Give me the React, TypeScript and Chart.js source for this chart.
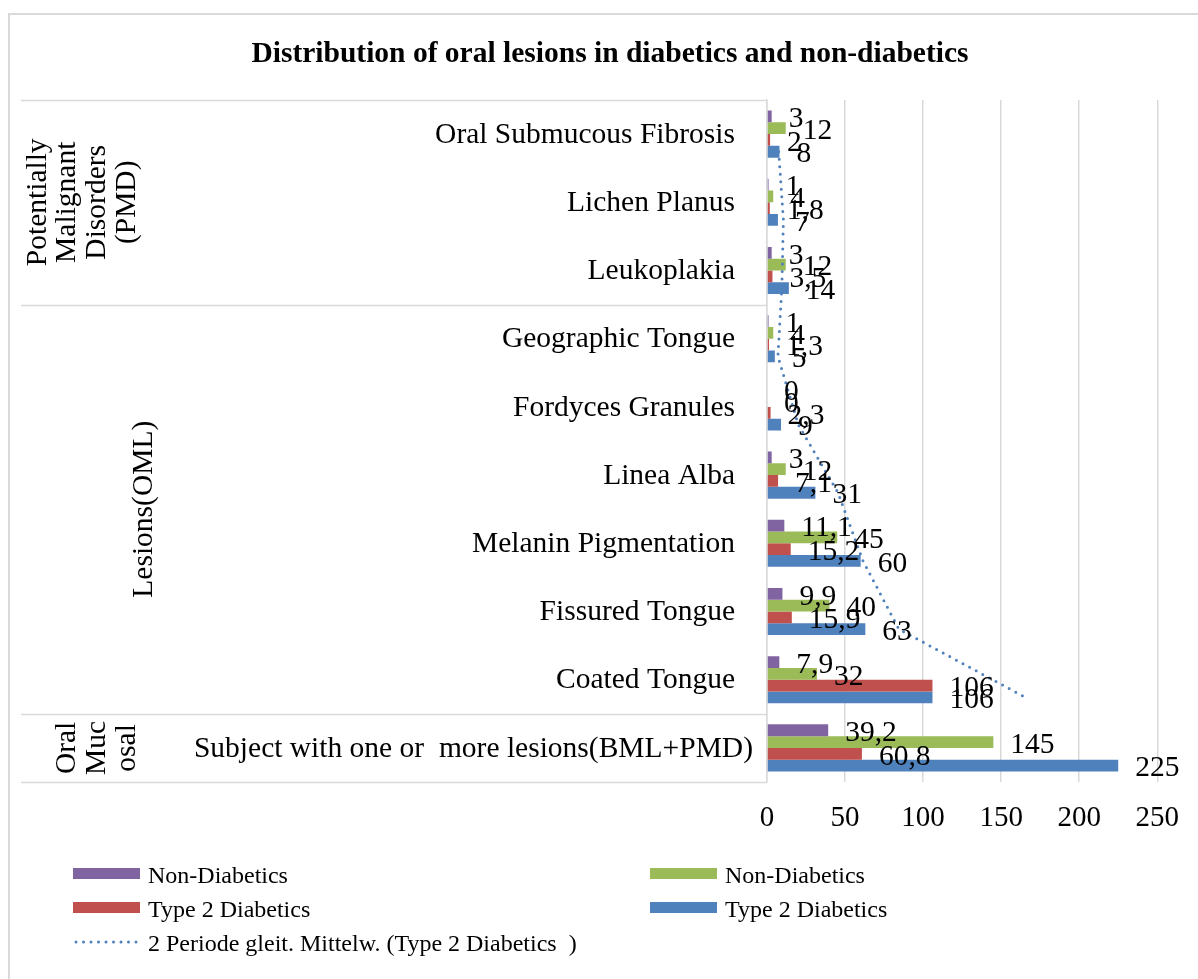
import React, { useEffect, useRef } from 'react';
import { Chart, registerables } from 'chart.js';

Chart.register(...registerables);

const FONT = '"Liberation Serif", "Times New Roman", serif';

const categories = [
  'Oral Submucous Fibrosis',
  'Lichen Planus',
  'Leukoplakia',
  'Geographic Tongue',
  'Fordyces Granules',
  'Linea Alba',
  'Melanin Pigmentation',
  'Fissured Tongue',
  'Coated Tongue',
  'Subject with one or  more lesions(BML+PMD)',
];

const nonDiabeticsPct = [3, 1, 3, 1, 0, 3, 11.1, 9.9, 7.9, 39.2];
const nonDiabeticsCount = [12, 4, 12, 4, 0, 12, 45, 40, 32, 145];
const type2Pct = [2, 1.8, 3.5, 1.3, 2.3, 7.1, 15.2, 15.9, 106, 60.8];
const type2Count = [8, 7, 14, 5, 9, 31, 60, 63, 106, 225];
const movingAvg = [7.5, 10.5, 9.5, 7, 20, 45.5, 61.5, 84.5, 165.5, null];

const xTickMin = 0;
const xTickMax = 250;
const xTickStep = 50;

const groups = [
  { lines: ['Potentially', 'Malignant', 'Disorders', '(PMD)'], first: 0, last: 2 },
  { lines: ['Lesions(OML)'], first: 3, last: 8 },
  { lines: ['Oral', 'Muc', 'osal'], first: 9, last: 9 },
];

const seriesLabels = ['Non-Diabetics', 'Non-Diabetics', 'Type 2 Diabetics', 'Type 2 Diabetics'];
const trendLabel = '2 Periode gleit. Mittelw. (Type 2 Diabetics  )';
const titleText = 'Distribution of oral lesions in diabetics and non-diabetics';
const colors = ['#8064A2', '#9BBB59', '#C0504D', '#4F81BD'];

const GRID = '#D9D9D9';
const TXT = 29.5;

const fmt = (v: number) => String(v).replace('.', ',');

const decorPlugin = {
  id: 'decor',
  beforeDraw(chart: any) {
    const ctx = chart.ctx;
    ctx.save();
    ctx.fillStyle = '#fff';
    ctx.fillRect(0, 0, chart.width, chart.height);
    ctx.restore();
  },
  beforeDatasetDraw(chart: any, args: any) {
    if (args.index !== 4) return;
    const ctx = chart.ctx;
    const blue = chart.getDatasetMeta(3).data[0];
    const yScale = chart.scales.y;
    const off = blue ? blue.y - yScale.getPixelForValue(0) : 0;
    ctx.save();
    ctx.translate(0, off);
  },
  afterDatasetDraw(chart: any, args: any) {
    if (args.index !== 4) return;
    chart.ctx.restore();
  },
  afterDatasetsDraw(chart: any) {
    const ctx = chart.ctx;
    ctx.save();
    ctx.font = `${TXT}px ${FONT}`;
    ctx.fillStyle = '#000';
    ctx.textAlign = 'left';
    ctx.textBaseline = 'middle';
    for (let d = 0; d < 4; d++) {
      const meta = chart.getDatasetMeta(d);
      const vals = chart.data.datasets[d].data;
      meta.data.forEach((el: any, i: number) => {
        ctx.fillText(fmt(vals[i]), el.x + 17, el.y + 3);
      });
    }
    ctx.restore();
  },
  afterDraw(chart: any) {
    const ctx = chart.ctx;
    const area = chart.chartArea;
    const y = chart.scales.y;
    ctx.save();
    // outer border
    ctx.strokeStyle = GRID;
    ctx.lineWidth = 2;
    ctx.strokeRect(9, 14, 1400, 1400);

    // title
    ctx.fillStyle = '#000';
    ctx.font = `bold ${TXT}px ${FONT}`;
    ctx.textAlign = 'center';
    ctx.textBaseline = 'alphabetic';
    ctx.fillText(titleText, 610, 62);

    // category labels (from the category scale)
    ctx.font = `${TXT}px ${FONT}`;
    ctx.textAlign = 'right';
    ctx.textBaseline = 'middle';
    categories.forEach((c, i) => {
      const right = i === categories.length - 1 ? 753 : 735;
      ctx.fillText(c, right, y.getPixelForValue(i) + 1);
    });

    // group boxes
    const boundary = (i: number) => {
      if (i <= 0) return area.top;
      if (i >= categories.length) return area.bottom;
      return (y.getPixelForValue(i - 1) + y.getPixelForValue(i)) / 2;
    };
    ctx.strokeStyle = GRID;
    ctx.lineWidth = 1.5;
    const ys = [boundary(0)];
    groups.forEach((g) => ys.push(boundary(g.last + 1)));
    ys.forEach((yy) => {
      ctx.beginPath();
      ctx.moveTo(21, Math.round(yy) + 0.5);
      ctx.lineTo(area.left, Math.round(yy) + 0.5);
      ctx.stroke();
    });

    // group labels (rotated)
    const lineX = [[38, 67, 97, 127], [144], [67, 97, 127]];
    ctx.fillStyle = '#000';
    ctx.font = `${TXT}px ${FONT}`;
    ctx.textAlign = 'center';
    ctx.textBaseline = 'middle';
    groups.forEach((g, gi) => {
      const cy = (boundary(g.first) + boundary(g.last + 1)) / 2;
      g.lines.forEach((t, li) => {
        ctx.save();
        ctx.translate(lineX[gi][li], cy);
        ctx.rotate(-Math.PI / 2);
        ctx.fillText(t, 0, 0);
        ctx.restore();
      });
    });

    // legend
    ctx.font = `24px ${FONT}`;
    ctx.textAlign = 'left';
    ctx.textBaseline = 'alphabetic';
    const colX = [73, 650];
    const rowBase = [883, 917, 951];
    const items = [0, 1, 2, 3].map((d, k) => ({ d, col: k % 2, row: Math.floor(k / 2) }));
    items.forEach((it) => {
      const sx = colX[it.col];
      const by = rowBase[it.row];
      ctx.fillStyle = colors[it.d];
      ctx.fillRect(sx, by - 15, 67, 11);
      ctx.fillStyle = '#000';
      ctx.fillText(seriesLabels[it.d], sx + 75, by);
    });
    // trend legend
    ctx.strokeStyle = colors[3];
    ctx.lineWidth = 3;
    ctx.lineCap = 'round';
    ctx.setLineDash([0, 7.5]);
    ctx.beginPath();
    ctx.moveTo(colX[0] + 3, rowBase[2] - 9);
    ctx.lineTo(colX[0] + 67, rowBase[2] - 9);
    ctx.stroke();
    ctx.setLineDash([]);
    ctx.fillStyle = '#000';
    ctx.fillText(trendLabel, colX[0] + 75, rowBase[2]);
    ctx.restore();
  },
};

export default function App() {
  const ref = useRef<HTMLCanvasElement | null>(null);
  useEffect(() => {
    document.body.style.margin = '0';
    const canvas = ref.current;
    if (!canvas) return;
    const barDs = (d: number, data: number[]) => ({
      type: 'bar' as const,
      label: seriesLabels[d],
      data,
      backgroundColor: colors[d],
      borderWidth: 0,
      categoryPercentage: 0.69,
      barPercentage: 1.0,
      indexAxis: 'y' as const,
    });
    const chart = new Chart(canvas, {
      type: 'bar',
      data: {
        labels: categories,
        datasets: [
          barDs(0, nonDiabeticsPct),
          barDs(1, nonDiabeticsCount),
          barDs(2, type2Pct),
          barDs(3, type2Count),
          {
            type: 'line' as const,
            label: trendLabel,
            data: movingAvg as any,
            borderColor: colors[3],
            borderWidth: 3,
            borderDash: [0, 7.5],
            borderCapStyle: 'round',
            pointRadius: 0,
            fill: false,
            tension: 0,
            indexAxis: 'y',
            order: -1,
            clip: false,
          } as any,
        ],
      },
      options: {
        indexAxis: 'y',
        responsive: false,
        animation: false,
        events: [],
        layout: { padding: { top: 100, right: 40, left: 0, bottom: 0 } },
        plugins: {
          legend: { display: false },
          title: { display: false },
          tooltip: { enabled: false },
        },
        scales: {
          x: {
            type: 'linear',
            min: xTickMin,
            max: xTickMax,
            ticks: {
              stepSize: xTickStep,
              color: '#000',
              font: { family: FONT, size: 29 },
              padding: 19,
            },
            grid: { color: GRID, lineWidth: 1.5, drawTicks: false },
            border: { display: false },
            afterFit: (s: any) => {
              s.height = 197;
            },
          },
          y: {
            type: 'category',
            ticks: { display: false },
            grid: { display: false, drawTicks: false },
            border: { display: true, color: GRID, width: 1.5 },
            afterFit: (s: any) => {
              s.width = 767;
            },
          },
        },
      },
      plugins: [decorPlugin],
    });
    return () => chart.destroy();
  }, []);
  return <canvas ref={ref} width={1198} height={979} style={{ display: 'block' }} />;
}
